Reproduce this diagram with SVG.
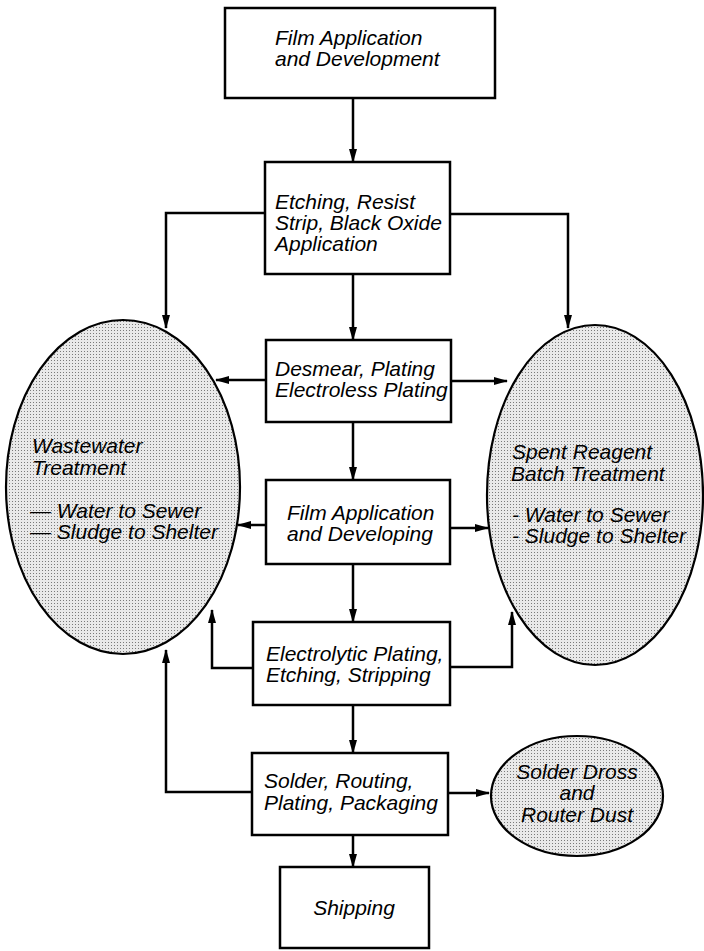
<svg xmlns="http://www.w3.org/2000/svg" width="704" height="951" viewBox="0 0 704 951">
<style>
.box{fill:#fff;stroke:#000;stroke-width:2.5}
.oval{fill:url(#dots);stroke:#000;stroke-width:2.2}
.t{font-family:"Liberation Sans",Arial,sans-serif;font-style:italic;font-size:21px;fill:#000}
.c{fill:none;stroke:#000;stroke-width:2.5;marker-end:url(#ah)}
</style>
<defs>
<pattern id="dots" width="3" height="3" patternUnits="userSpaceOnUse">
<rect width="3" height="3" fill="#e9e9e9"/>
<rect x="0" y="0" width="1" height="1" fill="#7a7a7a"/>
</pattern>
<marker id="ah" markerUnits="userSpaceOnUse" markerWidth="14" markerHeight="8" refX="13" refY="4" orient="auto">
<path d="M0,0 L14,4 L0,8 z" fill="#000"/>
</marker>
</defs>
<g id="connectors">
<path class="c" d="M353,98 V162"/>
<path class="c" d="M265,213 H166 V328"/>
<path class="c" d="M450,214 H568 V328"/>
<path class="c" d="M353,274 V340"/>
<path class="c" d="M266,380 H216"/>
<path class="c" d="M451,381 H507"/>
<path class="c" d="M353,422 V480"/>
<path class="c" d="M266,525 H238"/>
<path class="c" d="M450,528 H488"/>
<path class="c" d="M353,564 V622"/>
<path class="c" d="M253,668 H212 V610"/>
<path class="c" d="M450,667 H512 V612"/>
<path class="c" d="M353,705 V753"/>
<path class="c" d="M252,792 H166 V650"/>
<path class="c" d="M448,793 H489"/>
<path class="c" d="M353,835 V867"/>
</g>
<g id="n1">
<rect class="box" x="225" y="8" width="270" height="90"/>
<text class="t" x="275" y="45">Film Application</text>
<text class="t" x="275" y="66">and Development</text>
</g>
<g id="n2">
<rect class="box" x="265" y="162" width="185" height="112"/>
<text class="t" x="275" y="209">Etching, Resist</text>
<text class="t" x="275" y="230">Strip, Black Oxide</text>
<text class="t" x="275" y="251">Application</text>
</g>
<g id="n3">
<rect class="box" x="266" y="340" width="185" height="82"/>
<text class="t" x="275" y="376">Desmear, Plating</text>
<text class="t" x="275" y="397">Electroless Plating</text>
</g>
<g id="n4">
<rect class="box" x="266" y="480" width="184" height="84"/>
<text class="t" x="287" y="520">Film Application</text>
<text class="t" x="287" y="541">and Developing</text>
</g>
<g id="n5">
<rect class="box" x="253" y="622" width="197" height="83"/>
<text class="t" x="266" y="661">Electrolytic Plating,</text>
<text class="t" x="266" y="682">Etching, Stripping</text>
</g>
<g id="n6">
<rect class="box" x="252" y="753" width="196" height="82"/>
<text class="t" x="264" y="788">Solder, Routing,</text>
<text class="t" x="264" y="810">Plating, Packaging</text>
</g>
<g id="n7">
<rect class="box" x="280" y="867" width="149" height="81"/>
<text class="t" x="354" y="915" text-anchor="middle">Shipping</text>
</g>
<g id="e1">
<ellipse class="oval" cx="123" cy="487" rx="117" ry="167"/>
<text class="t" x="32" y="453">Wastewater</text>
<text class="t" x="32" y="475">Treatment</text>
<text class="t" x="30" y="518">— Water to Sewer</text>
<text class="t" x="30" y="539">— Sludge to Shelter</text>
</g>
<g id="e2">
<ellipse class="oval" cx="595" cy="495" rx="108" ry="170"/>
<text class="t" x="512" y="459">Spent Reagent</text>
<text class="t" x="511" y="481">Batch Treatment</text>
<text class="t" x="512" y="522">- Water to Sewer</text>
<text class="t" x="512" y="543">- Sludge to Shelter</text>
</g>
<g id="e3">
<ellipse class="oval" cx="577" cy="796" rx="86" ry="60"/>
<text class="t" x="577" y="779" text-anchor="middle">Solder Dross</text>
<text class="t" x="577" y="800" text-anchor="middle">and</text>
<text class="t" x="577" y="822" text-anchor="middle">Router Dust</text>
</g>
</svg>
